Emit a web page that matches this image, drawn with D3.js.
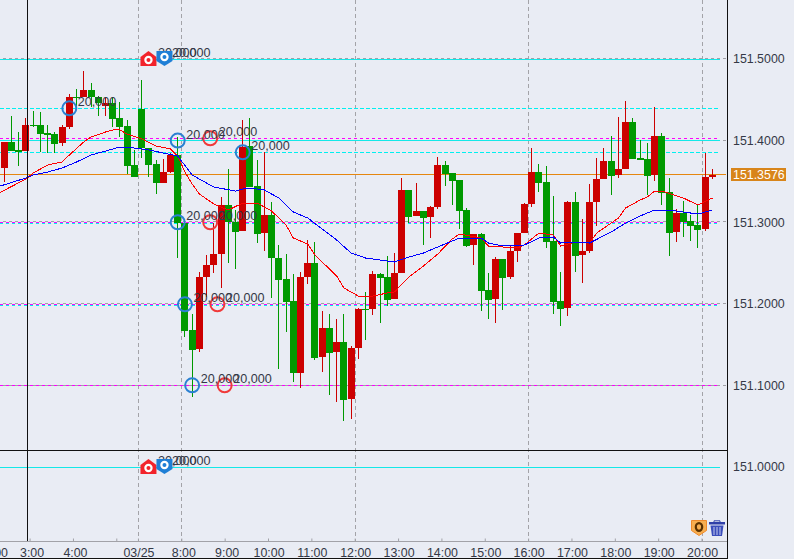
<!DOCTYPE html>
<html><head><meta charset="utf-8">
<script src="https://cdnjs.cloudflare.com/ajax/libs/d3/7.8.5/d3.min.js"></script>
<style>html,body{margin:0;padding:0;background:#E9ECF4;overflow:hidden}svg{display:block}text{font-family:"Liberation Sans",Arial,sans-serif}</style>
</head><body><svg id="c" width="794" height="559"></svg>
<script>
const opens=[151.3668,.3986,.3885,.3872,.4191,.4191,.4089,.4077,.3974,.4163,.4538,.4538,.4620,.4534,.4428,.4461,.4273,.4179,.3697,.4387,.3906,.3713,.3480,.3619,.3823,.2986,.1679,.1450,.2332,.2475,.2610,.3211,.3006,.2896,.3934,.3444,.2871,.3088,.2561,.2304,.2034,.1156,.2332,.2500,.1352,.1703,.1413,.1532,.0837,.1462,.1936,.1940,.2365,.2328,.2062,.2381,.3395,.3076,.3137,.3067,.3190,.3701,.3603,.3517,.3149,.2721,.2855,.2169,.2059,.2549,.2328,.2647,.2868,.3223,.3615,.3493,.2770,.2034,.1948,.3247,.2598,.2647,.3247,.3529,.3750,.3578,.3652,.4228,.3787,.3774,.3578,.4056,.3370,.2880,.3113,.3015,.2966,.2917,.3554].map(v=>v<2?151+v:v);
const highs=[151.3986,.4301,.4105,.4277,.4363,.4350,.4191,.4105,.4191,.4571,.4632,.4853,.4702,.4547,.4522,.4534,.4473,.4252,.3885,.4743,.3909,.3762,.3774,.3848,.4048,.2990,.1875,.2393,.2598,.2990,.3309,.3652,.3149,.4252,.4277,.3762,.3864,.3247,.2721,.2610,.2365,.2390,.2782,.2757,.1912,.1875,.1814,.1875,.1483,.1952,.2145,.2402,.2381,.2586,.2619,.3542,.3395,.3484,.3137,.3198,.3799,.3750,.3603,.3517,.3174,.2855,.2868,.2377,.2573,.2549,.2721,.2868,.3235,.3909,.3713,.3689,.3321,.2390,.3260,.3370,.3039,.3468,.3787,.3909,.4056,.4289,.4485,.4277,.4007,.3971,.4412,.4093,.3542,.3162,.3260,.3088,.3211,.3848,.3652].map(v=>v<2?151+v:v);
const lows=[151.3496,.3872,.3689,.3872,.4167,.3864,.3852,.3852,.3934,.4142,.4399,.4534,.4412,.4301,.4301,.4167,.4044,.3591,.3554,.3783,.3558,.3346,.3480,.3603,.2561,.1597,.0858,.1413,.2087,.2377,.2197,.2500,.2426,.2896,.3435,.2745,.2651,.2075,.1201,.1658,.1045,.0972,.2243,.1311,.1168,.0882,.0800,.0567,.0588,.1323,.1556,.1863,.1765,.1977,.2062,.2381,.2994,.3076,.2724,.2806,.3162,.3447,.3211,.2917,.2700,.2475,.1912,.1814,.1768,.1924,.2304,.2512,.2868,.3190,.3370,.2684,.1875,.1728,.1850,.2390,.2255,.2622,.2953,.3529,.3333,.3542,.3652,.3774,.3762,.3333,.3505,.3211,.2586,.2757,.2819,.2770,.2684,.2892,.3529].map(v=>v<2?151+v:v);
const closes=[151.3986,.3872,.3864,.4191,.4179,.4085,.4069,.3962,.4167,.4534,.4531,.4620,.4531,.4461,.4461,.4268,.4163,.3689,.3558,.3906,.3701,.3477,.3615,.3823,.2994,.1670,.1434,.2332,.2475,.2610,.3211,.3006,.2884,.3922,.3435,.2855,.3088,.2561,.2292,.2022,.1152,.2328,.2500,.1339,.1703,.1401,.1532,.0821,.1458,.1936,.1924,.2365,.2320,.2050,.2377,.3395,.3067,.3137,.3051,.3186,.3701,.3594,.3505,.3141,.2708,.2855,.2157,.2046,.2549,.2316,.2647,.2868,.3223,.3615,.3480,.2757,.2022,.1936,.3247,.2586,.2647,.3247,.3529,.3750,.3566,.3652,.4228,.3774,.3762,.3566,.4056,.3358,.2868,.3113,.3002,.2953,.2904,.3554,.3576].map(v=>v<2?151+v:v);
const fastIdx=[-1,3,4,6,8,9,11,12,14,15,16,17,19,21,23,24,25,26,27,29,31,33,35,37,39,40,42,43,46,47,49,51,53,54,56,58,60,62,63,66,67,71,72,74,76,77,78,79,81,82,85,86,88,89,90,91,94,96,98];
const fastVal=[.3346,.3529,.3603,.3701,.3738,.3823,.3983,.4044,.4105,.4130,.4130,.4081,.4020,.3934,.3897,.3811,.3615,.3468,.3346,.3223,.3149,.3235,.3235,.3137,.2966,.2806,.2733,.2598,.2341,.2194,.2095,.2095,.2132,.2145,.2328,.2463,.2610,.2794,.2855,.2806,.2708,.2684,.2721,.2868,.2843,.2708,.2733,.2757,.2745,.2868,.3051,.3174,.3272,.3309,.3382,.3382,.3296,.3211,.3296].map(v=>151+v);
const slowIdx=[-1,3,4,6,8,10,12,14,16,18,20,22,24,26,29,32,33,34,36,38,40,42,46,48,50,54,56,58,60,63,66,67,69,72,74,76,77,79,81,84,86,88,90,93,96,98];
const slowVal=[.3431,.3542,.3578,.3615,.3664,.3738,.3823,.3872,.3922,.3909,.3885,.3848,.3811,.3578,.3431,.3382,.3407,.3419,.3395,.3296,.3125,.3051,.2782,.2622,.2561,.2512,.2573,.2622,.2696,.2806,.2806,.2745,.2708,.2721,.2806,.2819,.2745,.2757,.2745,.2880,.2990,.3076,.3149,.3137,.3100,.3149].map(v=>151+v);
const priceTicks=[151.5,151.4,151.3,151.2,151.1,151.0];
const gridLevels=[151.5,151.4,151.3,151.2,151.1];
const timeIdx=[-1.5,3.5,9.5,15.5,18.5,24.5,30.5,36.5,42.5,48.5,54.5,60.5,66.5,72.5,78.5,84.5,90.5,96.5];
const timeLabels=["2:00","3:00","4:00","","03/25","8:00","9:00","10:00","11:00","12:00","13:00","14:00","15:00","16:00","17:00","18:00","19:00","20:00"];
const dashIdx=[18.5,24.5,48.5,72.5,96.5];
const magentaLevels=[151.4026,151.2996,151.1991,151.0999];
const cyanDashLevels=[151.4393,151.3854];
const cyanShortDashLevels=[151.2984,151.1979];
const cyanSolidLevels=[151.4994,151.4007,150.9994];
const currentPrice=151.3576;
const ringIdx=[9,24,24,25,26,33,28.5,28.5,29.5,30.5];
const ringVal=[151.4396,151.4,151.2999,151.1994,151.1001,151.3856,151.4028,151.2999,151.1994,151.1001];
const ringKind=["b","b","b","b","b","b","r","r","r","r"];
const ringLabel="20,000";
const flagLevels=[151.5,151.0];

const W=794,H=559,plotR=727,axisY=541;
const svg=d3.select("#c");
const x=d3.scaleLinear().domain([0,98]).range([4.3,712.35]);
const y=d3.scaleLinear().domain([151.5,151.0]).range([59,467]);
const cy=v=>Math.floor(y(v))+.5;
const gy=v=>Math.floor(y(v)-.2)+.5;
const GREEN="#009900",RED="#CC0000",TXT="#343846";

svg.append("rect").attr("width",W).attr("height",H).attr("fill","#E9ECF4");

// vertical dashed
svg.append("g").selectAll("line").data(dashIdx).join("line")
 .attr("x1",d=>Math.round(x(d))+.5).attr("x2",d=>Math.round(x(d))+.5).attr("y1",0).attr("y2",axisY)
 .attr("stroke","#A3A3A8").attr("stroke-dasharray","4,3");

// horizontal levels
const h=svg.append("g");
h.selectAll(".g").data(gridLevels).join("line").attr("class","g").attr("x1",0).attr("x2",726).attr("y1",gy).attr("y2",gy).attr("stroke","#A0A0A6").attr("stroke-dasharray","3,3").attr("stroke-dashoffset",3);
h.selectAll(".cs").data(cyanSolidLevels).join("line").attr("class","cs").attr("x1",0).attr("x2",720).attr("y1",cy).attr("y2",cy).attr("stroke","#14E8E8");
h.selectAll(".cd").data(cyanDashLevels).join("line").attr("class","cd").attr("x1",0).attr("x2",718).attr("y1",cy).attr("y2",cy).attr("stroke","#00F0F0").attr("stroke-dasharray","4,2");
h.selectAll(".cx").data(cyanShortDashLevels).join("line").attr("class","cx").attr("x1",0).attr("x2",720).attr("y1",cy).attr("y2",cy).attr("stroke","#00F0F0").attr("stroke-dasharray","3,3");
h.selectAll(".m").data(magentaLevels).join("line").attr("class","m").attr("x1",0).attr("x2",720).attr("y1",cy).attr("y2",cy).attr("stroke","#FF00FF").attr("stroke-dasharray","3,3");
h.append("line").attr("x1",0).attr("x2",726).attr("y1",cy(currentPrice)-1).attr("y2",cy(currentPrice)-1).attr("stroke","#E5860F");

// candles
const idx=d3.range(opens.length);
const col=i=>closes[i]>=opens[i]?RED:GREEN;
const cg=svg.append("g");
cg.selectAll(".w").data(idx).join("line").attr("class","w")
 .attr("x1",i=>Math.floor(x(i))+.5).attr("x2",i=>Math.floor(x(i))+.5)
 .attr("y1",i=>Math.round(y(highs[i]))).attr("y2",i=>Math.round(y(lows[i]))).attr("stroke",col);
cg.selectAll(".b").data(idx).join("rect").attr("class","b")
 .attr("x",i=>Math.floor(x(i))-3).attr("width",7)
 .attr("y",i=>Math.round(y(Math.max(opens[i],closes[i]))))
 .attr("height",i=>Math.max(1,Math.round(y(Math.min(opens[i],closes[i])))-Math.round(y(Math.max(opens[i],closes[i])))))
 .attr("fill",col);

// moving averages
const ln=d3.line().x(d=>x(d[0])).y(d=>y(d[1]));
svg.append("defs").append("clipPath").attr("id","pl").append("rect").attr("width",plotR).attr("height",H);
svg.append("path").attr("clip-path","url(#pl)").attr("d",ln(d3.zip(fastIdx,fastVal))).attr("fill","none").attr("stroke","#FF0000").attr("stroke-width",1).attr("shape-rendering","crispEdges");
svg.append("path").attr("clip-path","url(#pl)").attr("d",ln(d3.zip(slowIdx,slowVal))).attr("fill","none").attr("stroke","#0000FF").attr("stroke-width",1).attr("shape-rendering","crispEdges");

// frame lines
const fr=svg.append("g");
fr.append("line").attr("x1",0).attr("x2",plotR).attr("y1",450.5).attr("y2",450.5).attr("stroke","#111");
fr.append("line").attr("x1",27.5).attr("x2",27.5).attr("y1",0).attr("y2",axisY).attr("stroke","#111");
fr.append("line").attr("x1",727.5).attr("x2",727.5).attr("y1",0).attr("y2",H).attr("stroke","#111");
fr.append("line").attr("x1",0).attr("x2",plotR).attr("y1",558.5).attr("y2",558.5).attr("stroke","#111");

// rings
const rg=svg.append("g");
rg.selectAll("circle").data(ringIdx).join("circle")
 .attr("cx",d=>x(d)).attr("cy",(d,i)=>y(ringVal[i])).attr("r",7)
 .attr("fill","none").attr("stroke-width",2).attr("stroke",(d,i)=>ringKind[i]==="b"?"#2A80D2":"#F03A3A");
rg.selectAll("text").data(ringIdx).join("text")
 .attr("x",d=>x(d)+8.5).attr("y",(d,i)=>y(ringVal[i])-2)
 .attr("font-size",12.6).attr("fill",TXT).text(ringLabel);

// flags
flagLevels.forEach(v=>{
 const yy=Math.round(y(v));
 const g=svg.append("g");
 const rx=x(18.5)+10.5, bx=x(18.5)+26.5;
 [158,172].forEach(tx=>g.append("text").attr("x",tx).attr("y",yy-2.5).attr("font-size",12.6).attr("fill",TXT).text(ringLabel));
 g.append("path").attr("d",`M${rx-8} ${yy-2}L${rx} ${yy-8}L${rx+8} ${yy-2}V${yy+7}H${rx-8}Z`).attr("fill","#F2232B");
 g.append("circle").attr("cx",rx).attr("cy",yy+1).attr("r",3.1).attr("fill","none").attr("stroke","#fff").attr("stroke-width",2.2);
 g.append("path").attr("d",`M${bx-8} ${yy-8}H${bx+8}V${yy+2}L${bx} ${yy+7}L${bx-8} ${yy+2}Z`).attr("fill","#1F7FD6");
 g.append("circle").attr("cx",bx).attr("cy",yy-2).attr("r",3.1).attr("fill","none").attr("stroke","#fff").attr("stroke-width",2.2);
});

// axes
const yAxis=d3.axisRight(y).tickValues(priceTicks).tickFormat(d3.format(".4f")).tickSize(0).tickPadding(0);
const ya=svg.append("g").attr("transform","translate(733,0)").call(yAxis);
ya.select(".domain").remove();
ya.selectAll("text").attr("font-size",12.4).attr("fill",TXT).attr("font-family",'"Liberation Sans",Arial,sans-serif');

const xAxis=d3.axisBottom(x).tickValues(timeIdx).tickFormat((d,i)=>timeLabels[i]).tickSize(-3).tickPadding(7);
const xa=svg.append("g").attr("transform",`translate(0,${axisY+.5})`).call(xAxis);
xa.select(".domain").remove();
xa.append("line").attr("x1",0).attr("x2",plotR).attr("stroke","#A2A2A8");
xa.selectAll(".tick line").attr("stroke","#A2A2A8");
xa.selectAll(".tick text").attr("dx",(d,i)=>timeLabels[i].length===4?2:.5).attr("font-size",12.4).attr("fill",TXT).attr("font-family",'"Liberation Sans",Arial,sans-serif');

// price tag
const ty=y(currentPrice);
svg.append("rect").attr("x",731).attr("y",168).attr("width",55).attr("height",13).attr("fill","#D8851A");
svg.append("text").attr("x",733).attr("y",ty+3.8).attr("font-size",12.4).attr("fill","#fff").text(d3.format(".4f")(currentPrice));

// badge and trash
const bd=svg.append("g").attr("transform","translate(691,520)");
bd.append("path").attr("d","M0.5 .5H15.5V10.5L8 15.5L.5 10.5Z").attr("fill","#F7AE50").attr("stroke","#F08A2A");
bd.append("ellipse").attr("cx",8).attr("cy",7).attr("rx",3.2).attr("ry",3.8).attr("fill","none").attr("stroke","#5A3000").attr("stroke-width",2.2);
const tr=svg.append("g").attr("transform","translate(709,520)");
tr.append("path").attr("d","M5 2V.8H11V2").attr("fill","none").attr("stroke","#3344AA");
tr.append("rect").attr("x",0).attr("y",2).attr("width",16).attr("height",2.5).attr("fill","#2F3FA8");
tr.append("path").attr("d","M1.5 5.5H14.5L13 16H3Z").attr("fill","#3B4DBB");
[5,8,11].forEach(a=>tr.append("line").attr("x1",a).attr("x2",a).attr("y1",7).attr("y2",15).attr("stroke","#C5CCEE"));
</script></body></html>
